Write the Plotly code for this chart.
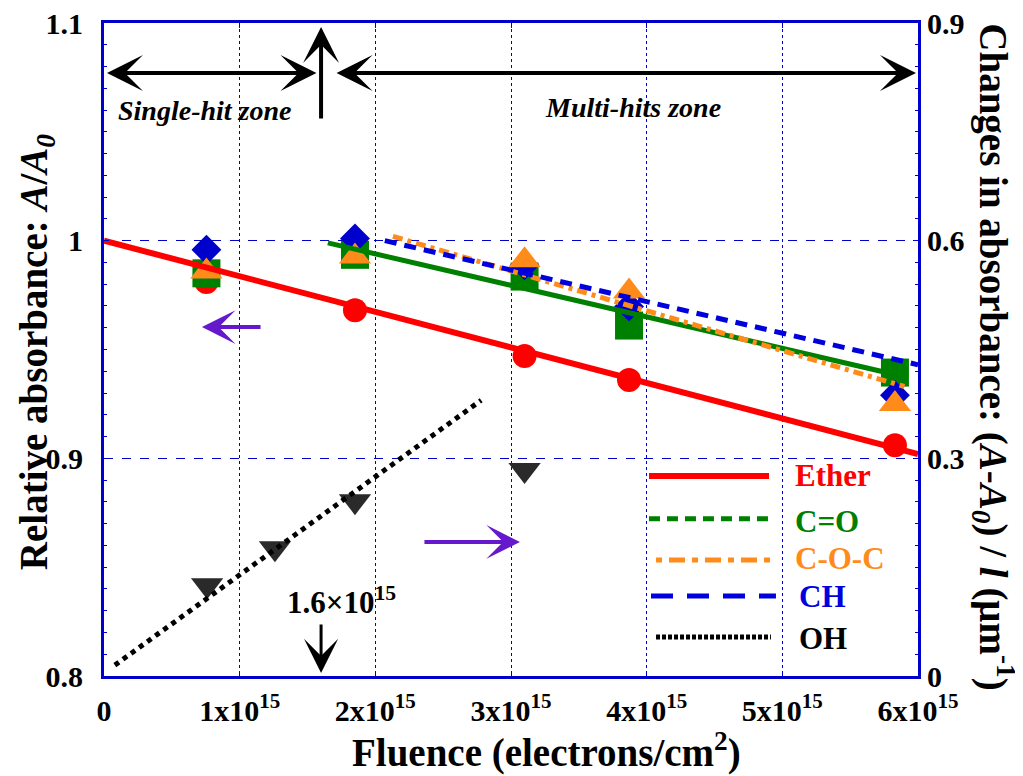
import plotly.graph_objects as go

# ---------------- data ----------------
fluence = [0.755e15, 1.85e15, 3.1e15, 3.87e15, 5.83e15]
ether = [0.981, 0.968, 0.947, 0.936, 0.906]
c_o = [0.985, 0.9935, 0.9835, 0.961, 0.9394]
ch = [0.9958, 1.001, 0.9887, 0.9697, 0.929]
c_o_c = [0.9858, 0.9927, 0.991, 0.9766, 0.925]

oh_fluence = [0.76e15, 1.26e15, 1.85e15, 3.1e15]
oh = [0.125, 0.176, 0.241, 0.284]

ether_fit_x = [0.0, 6.0e15]
ether_fit = [1.0, 0.902]
c_o_fit_x = [1.65e15, 5.83e15]
c_o_fit = [0.999, 0.9385]
c_o_c_fit_x = [2.13e15, 5.90e15]
c_o_c_fit = [1.002, 0.933]
ch_fit_x = [2.07e15, 6.0e15]
ch_fit = [1.0, 0.943]
oh_fit_x = [0.08e15, 2.78e15]
oh_fit = [0.015, 0.380]

x_tickvals = [0, 1e15, 2e15, 3e15, 4e15, 5e15, 6e15]
x_ticktext = ["0"] + [f"{i}x10<sup>15</sup>" for i in range(1, 7)]
y_tickvals = [0.8, 0.9, 1.0, 1.1]
y_ticktext = ["0.8", "0.9", "1", "1.1"]
y2_tickvals = [0, 0.3, 0.6, 0.9]
y2_ticktext = ["0", "0.3", "0.6", "0.9"]

threshold = 1.6e15

# ---------------- styles ----------------
FONT = "Liberation Serif"
AX = "#0000cc"
RED = "#ff0000"
GREEN = "#008000"
ORANGE = "#ff8c1a"
BLUE = "#0000dd"
BLACK = "#000000"
PURPLE = "#6618cc"

fig = go.Figure()

# markers
fig.add_trace(go.Scatter(x=fluence, y=ether, mode="markers", name="Ether",
                         marker=dict(symbol="circle", size=24, color=RED)))
fig.add_trace(go.Scatter(x=fluence, y=c_o, mode="markers", name="C=O",
                         marker=dict(symbol="square", size=28, color=GREEN)))
fig.add_trace(go.Scatter(x=fluence, y=ch, mode="markers", name="CH",
                         marker=dict(symbol="diamond", size=23, color=AX)))
fig.add_trace(go.Scatter(x=fluence, y=c_o_c, mode="markers", name="C-O-C",
                         marker=dict(symbol="triangle-up", size=28, color=ORANGE)))

# fit lines
fig.add_trace(go.Scatter(x=ether_fit_x, y=ether_fit, mode="lines",
                         line=dict(color=RED, width=6)))
fig.add_trace(go.Scatter(x=c_o_fit_x, y=c_o_fit, mode="lines",
                         line=dict(color=GREEN, width=5)))
fig.add_trace(go.Scatter(x=c_o_c_fit_x, y=c_o_c_fit, mode="lines",
                         line=dict(color=ORANGE, width=5, dash="10px,5px,4px,5px")))
fig.add_trace(go.Scatter(x=ch_fit_x, y=ch_fit, mode="lines",
                         line=dict(color=BLUE, width=5, dash="12px,8px")))

# OH on right axis
fig.add_trace(go.Scatter(x=oh_fluence, y=oh, mode="markers", yaxis="y2",
                         marker=dict(symbol="triangle-down", size=28, color="#2a2a2a")))
fig.add_trace(go.Scatter(x=oh_fit_x, y=oh_fit, mode="lines", yaxis="y2",
                         line=dict(color=BLACK, width=5, dash="5px,5px")))

tickfont = dict(family=FONT, size=30, color="black", weight="bold")

# the page body has an 8px margin, so the figure is sized to fill the rest of the window
fig.update_layout(
    width=1015, height=768,
    margin=dict(l=96, r=105, t=15, b=100),
    paper_bgcolor="white", plot_bgcolor="white",
    showlegend=False,
    font=dict(family=FONT, color="black"),
    xaxis=dict(
        range=[0, 6e15], tickmode="array", tickvals=x_tickvals, ticktext=x_ticktext,
        tickfont=tickfont, showline=True, linecolor=AX, linewidth=3, mirror="ticks",
        ticks="inside", ticklen=5, tickcolor=AX, tickwidth=1,
        showgrid=True, gridcolor=AX, gridwidth=1, griddash="dot",
        zeroline=False, ticklabelstandoff=6, automargin=False, ticklabeloverflow="allow",
    ),
    yaxis=dict(
        range=[0.8, 1.1], tickmode="array", tickvals=y_tickvals, ticktext=y_ticktext,
        tickfont=tickfont, showline=True, linecolor=AX, linewidth=3, mirror=True,
        ticks="inside", ticklen=5, tickcolor=AX, tickwidth=1,
        minor=dict(ticks="inside", ticklen=3, tickcolor=AX, dtick=0.01, showgrid=False),
        showgrid=True, gridcolor=AX, gridwidth=1, griddash="dash",
        zeroline=False, ticklabelstandoff=12, automargin=False, ticklabeloverflow="allow",
    ),
    yaxis2=dict(
        range=[0, 0.9], overlaying="y", side="right", tickmode="array",
        tickvals=y2_tickvals, ticktext=y2_ticktext, tickfont=tickfont,
        showline=False, ticks="inside", ticklen=5, tickcolor=AX,
        minor=dict(ticks="inside", ticklen=3, tickcolor=AX, dtick=0.03, showgrid=False),
        showgrid=False, zeroline=False, ticklabelstandoff=8, automargin=False,
        ticklabeloverflow="allow",
    ),
)

ann = []
title_font = dict(family=FONT, size=39, color="black", weight="bold")
ann.append(dict(text="Fluence (electrons/cm<sup>2</sup>)", xref="paper", yref="paper",
                x=0.543, y=-0.114, showarrow=False, font=title_font,
                xanchor="center", yanchor="middle"))
ann.append(dict(text="Relative absorbance: <i>A</i>/<i>A<sub>0</sub></i>", xref="paper", yref="paper",
                x=-0.0835, y=0.496, textangle=-90, showarrow=False, font=title_font,
                xanchor="center", yanchor="middle"))
ann.append(dict(text="Changes in absorbance: (<i>A</i>-<i>A<sub>0</sub></i>) / <i>l</i> (μm<sup>-1</sup>)",
                xref="paper", yref="paper", x=1.093, y=0.4885, textangle=90, showarrow=False,
                font=title_font, xanchor="center", yanchor="middle"))

# zone arrows
arrow_common = dict(text="", showarrow=True, xref="x", yref="y", axref="x", ayref="y",
                    arrowcolor=BLACK, arrowwidth=4, arrowhead=3, arrowsize=1.5,
                    standoff=0, startstandoff=0, startarrowhead=3, startarrowsize=1.5)
ann.append(dict(x=0.022e15, y=1.077, ax=1.577e15, ay=1.077, arrowside="end+start", **arrow_common))
ann.append(dict(x=5.985e15, y=1.077, ax=1.703e15, ay=1.077, arrowside="end+start", **arrow_common))
ann.append(dict(x=threshold, y=1.0982, ax=threshold, ay=1.0554, **arrow_common))
ann.append(dict(x=threshold, y=0.8014, ax=threshold, ay=0.8243,
                **{**arrow_common, "arrowwidth": 3, "arrowsize": 1.9}))

zone_font = dict(family=FONT, size=28, color="black", weight="bold", style="italic")
ann.append(dict(text="Single-hit zone", x=0.741e15, y=1.0596, xref="x", yref="y",
                showarrow=False, font=zone_font))
ann.append(dict(text="Multi-hits zone", x=3.899e15, y=1.061, xref="x", yref="y",
                showarrow=False, font=zone_font))
ann.append(dict(text="1.6×10<sup>15</sup>", x=1.747e15, y=0.8349, xref="x", yref="y",
                showarrow=False, font=dict(family=FONT, size=31, color="black", weight="bold")))

# axis-indicator arrows
purple = dict(text="", showarrow=True, xref="x", yref="y", axref="x", ayref="y",
              arrowcolor=PURPLE, arrowwidth=4, arrowhead=3, arrowsize=1.4, standoff=0)
ann.append(dict(x=0.722e15, y=0.9603, ax=1.165e15, ay=0.9603, **purple))
ann.append(dict(x=3.066e15, y=0.8616, ax=2.351e15, ay=0.8616, **purple))

# manual legend
legend_items = [
    ("Ether", RED, "solid", 4.017e15, 4.902e15, 0.8919, 5.078e15, 0.8923),
    ("C=O", GREEN, "11px,7px", 4.017e15, 4.924e15, 0.8722, 5.078e15, 0.8712),
    ("C-O-C", ORANGE, "6px,7px,16px,7px", 4.069e15, 4.924e15, 0.8533, 5.078e15, 0.8542),
    ("CH", BLUE, "22px,14px", 4.032e15, 4.953e15, 0.8368, 5.108e15, 0.8365),
    ("OH", BLACK, "4px,2px", 4.069e15, 4.916e15, 0.8179, 5.108e15, 0.8172),
]
shapes = []
for name, col, dash, x0, x1, ly, tx, ty in legend_items:
    shapes.append(dict(type="line", xref="x", yref="y", x0=x0, x1=x1, y0=ly, y1=ly,
                       line=dict(color=col, width=5 if name != "Ether" else 6, dash=dash)))
    ann.append(dict(text=name, x=tx, y=ty, xref="x", yref="y", showarrow=False,
                    xanchor="left", yanchor="middle",
                    font=dict(family=FONT, size=31, color=col, weight="bold")))

fig.update_layout(annotations=ann, shapes=shapes)
fig.write_html("out.html")
